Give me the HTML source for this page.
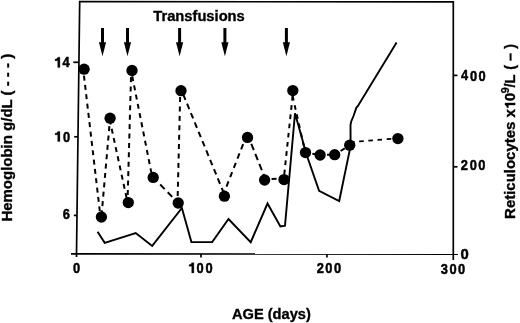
<!DOCTYPE html>
<html><head><meta charset="utf-8"><style>
html,body{margin:0;padding:0;background:#fff;font-family:"Liberation Sans",sans-serif;}
svg{display:block;will-change:transform;filter:blur(0.3px);}
</style></head><body>
<svg width="520" height="323" viewBox="0 0 520 323">
<g stroke="#000" stroke-width="1.7" fill="none" stroke-linecap="butt">
<polyline points="76.5,254 79.7,1.6 453.3,1.9 453.3,260"/>
<line x1="71" y1="253.8" x2="458" y2="254.2"/>
<line x1="73.3" y1="62.3" x2="78.93" y2="62.3"/>
<line x1="74.2" y1="136.8" x2="77.99" y2="136.8"/>
<line x1="73.8" y1="215.4" x2="76.99" y2="215.4"/>
<line x1="453" y1="75.4" x2="457.5" y2="75.4"/>
<line x1="453" y1="166.8" x2="457.5" y2="166.8"/>
<line x1="76.5" y1="254" x2="76.5" y2="257"/>
<line x1="201" y1="254" x2="201" y2="257.5"/>
<line x1="326.9" y1="254" x2="326.9" y2="257.5"/>
</g>
<polyline points="97.6,231.7 104.7,242.8 135.7,233.0 152.2,245.9 181.9,208.0 191.4,242.1 212.2,242.0 228.5,219.0 250.7,242.2 267.5,203.5 280.4,226.5 285.0,225.7 295.0,113.3 306.5,154.5 319.1,190.8 339.2,201.0 350.6,146.0 350.5,125.0 351.2,121.5 353.5,116.0 356.4,107.6 357.6,106.4 396.6,42.6" fill="none" stroke="#000" stroke-width="1.9" stroke-linejoin="miter"/>
<line x1="83.20" y1="69.20" x2="100.50" y2="217.00" stroke="#000" stroke-width="2" stroke-dasharray="5.0 4.4" stroke-dashoffset="3.00"/>
<line x1="101.40" y1="217.00" x2="110.10" y2="118.20" stroke="#000" stroke-width="2" stroke-dasharray="5.0 4.4" stroke-dashoffset="7.80"/>
<line x1="109.40" y1="118.20" x2="127.60" y2="202.60" stroke="#000" stroke-width="2" stroke-dasharray="5.0 4.4" stroke-dashoffset="8.00"/>
<line x1="127.50" y1="202.60" x2="131.20" y2="70.50" stroke="#000" stroke-width="2" stroke-dasharray="5.0 4.4" stroke-dashoffset="1.70"/>
<line x1="131.10" y1="70.50" x2="152.30" y2="177.40" stroke="#000" stroke-width="2" stroke-dasharray="5.0 4.4" stroke-dashoffset="3.60"/>
<line x1="153.20" y1="177.40" x2="178.20" y2="203.00" stroke="#000" stroke-width="2" stroke-dasharray="6.4 4.4" stroke-dashoffset="0.80"/>
<line x1="177.50" y1="203.00" x2="180.30" y2="90.70" stroke="#000" stroke-width="2" stroke-dasharray="5.0 4.4" stroke-dashoffset="2.45"/>
<line x1="181.70" y1="90.70" x2="225.10" y2="196.20" stroke="#000" stroke-width="2" stroke-dasharray="5.8 4.3" stroke-dashoffset="6.10"/>
<line x1="222.70" y1="196.20" x2="245.80" y2="137.40" stroke="#000" stroke-width="2" stroke-dasharray="5.5 4.5" stroke-dashoffset="9.60"/>
<line x1="248.65" y1="137.40" x2="265.75" y2="180.00" stroke="#000" stroke-width="2" stroke-dasharray="6.8 4.0" stroke-dashoffset="3.80"/>
<line x1="264.60" y1="179.10" x2="284.00" y2="178.70" stroke="#000" stroke-width="2" stroke-dasharray="5.0 4.4" stroke-dashoffset="2.45"/>
<line x1="292.60" y1="96.00" x2="283.70" y2="179.60" stroke="#000" stroke-width="2" stroke-dasharray="4.7 4.55" stroke-dashoffset="0.00"/>
<line x1="292.60" y1="96.00" x2="305.30" y2="152.60" stroke="#000" stroke-width="2" stroke-dasharray="4.6 4.8" stroke-dashoffset="0.00"/>
<line x1="305.50" y1="152.60" x2="320.10" y2="155.00" stroke="#000" stroke-width="2" stroke-dasharray="5.0 4.4" stroke-dashoffset="2.45"/>
<line x1="320.10" y1="155.00" x2="334.70" y2="154.70" stroke="#000" stroke-width="2" stroke-dasharray="5.0 4.4" stroke-dashoffset="2.45"/>
<line x1="334.70" y1="154.70" x2="349.70" y2="145.20" stroke="#000" stroke-width="2" stroke-dasharray="5.0 4.4" stroke-dashoffset="2.45"/>
<line x1="349.70" y1="142.30" x2="397.90" y2="138.20" stroke="#000" stroke-width="1.75" stroke-dasharray="4.6 4.6" stroke-dashoffset="8.90"/>
<circle cx="84.1" cy="69.2" r="5.65" fill="#000"/>
<circle cx="101.4" cy="217" r="5.65" fill="#000"/>
<circle cx="110.1" cy="118.2" r="5.65" fill="#000"/>
<circle cx="128.3" cy="202.6" r="5.65" fill="#000"/>
<circle cx="132" cy="70.5" r="5.65" fill="#000"/>
<circle cx="153.2" cy="177.4" r="5.65" fill="#000"/>
<circle cx="178.2" cy="203" r="5.65" fill="#000"/>
<circle cx="181" cy="90.7" r="5.65" fill="#000"/>
<circle cx="224.4" cy="196.2" r="5.65" fill="#000"/>
<circle cx="247.5" cy="137.4" r="5.65" fill="#000"/>
<circle cx="264.6" cy="180" r="5.65" fill="#000"/>
<circle cx="284" cy="179.6" r="5.65" fill="#000"/>
<circle cx="292.8" cy="90.6" r="5.65" fill="#000"/>
<circle cx="305.5" cy="152.6" r="5.65" fill="#000"/>
<circle cx="320.1" cy="155" r="5.65" fill="#000"/>
<circle cx="334.7" cy="154.7" r="5.65" fill="#000"/>
<circle cx="349.7" cy="145.2" r="5.65" fill="#000"/>
<circle cx="397.9" cy="138.6" r="5.65" fill="#000"/>
<rect x="101.0" y="28" width="3" height="15" fill="#000"/>
<polygon points="98.9,42.3 106.1,42.3 102.5,56.2" fill="#000"/>
<rect x="126.0" y="28" width="3" height="15" fill="#000"/>
<polygon points="123.9,42.3 131.1,42.3 127.5,56.2" fill="#000"/>
<rect x="178.1" y="28" width="3" height="15" fill="#000"/>
<polygon points="176.0,42.3 183.2,42.3 179.6,56.2" fill="#000"/>
<rect x="223.4" y="28" width="3" height="15" fill="#000"/>
<polygon points="221.3,42.3 228.5,42.3 224.9,56.2" fill="#000"/>
<rect x="284.9" y="28" width="3" height="15" fill="#000"/>
<polygon points="282.79999999999995,42.3 290.0,42.3 286.4,56.2" fill="#000"/>
<text x="153.24" y="21.1" font-size="14.5" font-family="&apos;Liberation Sans&apos;, sans-serif" font-weight="bold" fill="#000" stroke="#000" stroke-width="0.35" textLength="91.56" lengthAdjust="spacingAndGlyphs">Transfusions</text>
<text x="231.94" y="318.6" font-size="14.9" font-family="&apos;Liberation Sans&apos;, sans-serif" font-weight="bold" fill="#000" stroke="#000" stroke-width="0.35" textLength="78.89" lengthAdjust="spacingAndGlyphs">AGE (days)</text>
<path transform="translate(55.0,67.4) scale(0.0146)" d="M336 0L186 0L186 -462L0 -462L0 -565C95 -570 165 -615 186 -700L336 -700Z" fill="#000" stroke="#000" stroke-width="20.5"/>
<text transform="translate(62.56,67.4) scale(0.88,1)" font-size="14.6" font-family="&apos;Liberation Sans&apos;, sans-serif" font-weight="bold" fill="#000" stroke="#000" stroke-width="0.5">4</text>
<path transform="translate(55.0,141.6) scale(0.0146)" d="M336 0L186 0L186 -462L0 -462L0 -565C95 -570 165 -615 186 -700L336 -700Z" fill="#000" stroke="#000" stroke-width="20.5"/>
<text transform="translate(62.89,141.7) scale(0.88,1)" font-size="14.6" font-family="&apos;Liberation Sans&apos;, sans-serif" font-weight="bold" fill="#000" stroke="#000" stroke-width="0.5">0</text>
<text transform="translate(62.77,218.8) scale(0.88,1)" font-size="14.6" font-family="&apos;Liberation Sans&apos;, sans-serif" font-weight="bold" fill="#000" stroke="#000" stroke-width="0.5">6</text>
<text transform="translate(73.04,272.9) scale(0.88,1)" font-size="14.6" font-family="&apos;Liberation Sans&apos;, sans-serif" font-weight="bold" fill="#000" stroke="#000" stroke-width="0.5">0</text>
<path transform="translate(189.0,272.9) scale(0.0146)" d="M336 0L186 0L186 -462L0 -462L0 -565C95 -570 165 -615 186 -700L336 -700Z" fill="#000" stroke="#000" stroke-width="20.5"/>
<text transform="translate(196.54,273.0) scale(0.88,1)" font-size="14.6" font-family="&apos;Liberation Sans&apos;, sans-serif" font-weight="bold" fill="#000" stroke="#000" stroke-width="0.5">0</text>
<text transform="translate(205.59,273.0) scale(0.88,1)" font-size="14.6" font-family="&apos;Liberation Sans&apos;, sans-serif" font-weight="bold" fill="#000" stroke="#000" stroke-width="0.5">0</text>
<text transform="translate(316.81,273.2) scale(0.88,1)" font-size="14.6" font-family="&apos;Liberation Sans&apos;, sans-serif" font-weight="bold" fill="#000" stroke="#000" stroke-width="0.5">2</text>
<text transform="translate(325.24,273.3) scale(0.88,1)" font-size="14.6" font-family="&apos;Liberation Sans&apos;, sans-serif" font-weight="bold" fill="#000" stroke="#000" stroke-width="0.5">0</text>
<text transform="translate(333.89,273.3) scale(0.88,1)" font-size="14.6" font-family="&apos;Liberation Sans&apos;, sans-serif" font-weight="bold" fill="#000" stroke="#000" stroke-width="0.5">0</text>
<text transform="translate(440.86,273.6) scale(0.88,1)" font-size="14.6" font-family="&apos;Liberation Sans&apos;, sans-serif" font-weight="bold" fill="#000" stroke="#000" stroke-width="0.5">3</text>
<text transform="translate(449.44,273.6) scale(0.88,1)" font-size="14.6" font-family="&apos;Liberation Sans&apos;, sans-serif" font-weight="bold" fill="#000" stroke="#000" stroke-width="0.5">0</text>
<text transform="translate(457.94,273.6) scale(0.88,1)" font-size="14.6" font-family="&apos;Liberation Sans&apos;, sans-serif" font-weight="bold" fill="#000" stroke="#000" stroke-width="0.5">0</text>
<text transform="translate(460.58,259.0) scale(0.97,1)" font-size="15.3" font-family="&apos;Liberation Sans&apos;, sans-serif" font-weight="bold" fill="#000" stroke="#000" stroke-width="0.5">0</text>
<text transform="translate(460.81,169.6) scale(0.88,1)" font-size="14.6" font-family="&apos;Liberation Sans&apos;, sans-serif" font-weight="bold" fill="#000" stroke="#000" stroke-width="0.5">2</text>
<text transform="translate(469.74,169.7) scale(0.88,1)" font-size="14.6" font-family="&apos;Liberation Sans&apos;, sans-serif" font-weight="bold" fill="#000" stroke="#000" stroke-width="0.5">0</text>
<text transform="translate(478.24,169.7) scale(0.88,1)" font-size="14.6" font-family="&apos;Liberation Sans&apos;, sans-serif" font-weight="bold" fill="#000" stroke="#000" stroke-width="0.5">0</text>
<text transform="translate(461.01,80.4) scale(0.88,1)" font-size="14.6" font-family="&apos;Liberation Sans&apos;, sans-serif" font-weight="bold" fill="#000" stroke="#000" stroke-width="0.5">4</text>
<text transform="translate(470.04,80.5) scale(0.88,1)" font-size="14.6" font-family="&apos;Liberation Sans&apos;, sans-serif" font-weight="bold" fill="#000" stroke="#000" stroke-width="0.5">0</text>
<text transform="translate(478.39,80.5) scale(0.88,1)" font-size="14.6" font-family="&apos;Liberation Sans&apos;, sans-serif" font-weight="bold" fill="#000" stroke="#000" stroke-width="0.5">0</text>
<text transform="translate(11.9,221.60) rotate(-90)" font-size="14.8" font-family="&apos;Liberation Sans&apos;, sans-serif" font-weight="bold" fill="#000" stroke="#000" stroke-width="0.35" textLength="167.74" lengthAdjust="spacingAndGlyphs">Hemoglobin g/dL ( - - - )</text>
<text transform="translate(515.1,218.90) rotate(-90)" font-size="14.6" font-family="&apos;Liberation Sans&apos;, sans-serif" font-weight="bold" fill="#000" stroke="#000" stroke-width="0.35" textLength="109.71" lengthAdjust="spacingAndGlyphs">Reticulocytes x</text>
<path transform="translate(515.2,107.8) rotate(-90) scale(0.0146)" d="M336 0L186 0L186 -462L0 -462L0 -565C95 -570 165 -615 186 -700L336 -700Z" fill="#000" stroke="#000" stroke-width="20.5"/>
<text transform="translate(515.2,101.00) rotate(-90) scale(1.0,1)" font-size="14.6" font-family="&apos;Liberation Sans&apos;, sans-serif" font-weight="bold" fill="#000" stroke="#000" stroke-width="0.5">0</text>
<text transform="translate(509.0,93.2) rotate(-90)" font-size="10.6" font-family="&apos;Liberation Sans&apos;, sans-serif" font-weight="bold" fill="#000" stroke="#000" stroke-width="0.3">9</text>
<text transform="translate(515,87.6) rotate(-90)" font-size="14.6" font-family="&apos;Liberation Sans&apos;, sans-serif" font-weight="bold" fill="#000" stroke="#000" stroke-width="0.35">/L</text>
<text transform="translate(515,69.8) rotate(-90)" font-size="14.6" font-family="&apos;Liberation Sans&apos;, sans-serif" font-weight="bold" fill="#000" stroke="#000" stroke-width="0.35" textLength="25.8" lengthAdjust="spacingAndGlyphs">( – )</text>
</svg>
</body></html>
